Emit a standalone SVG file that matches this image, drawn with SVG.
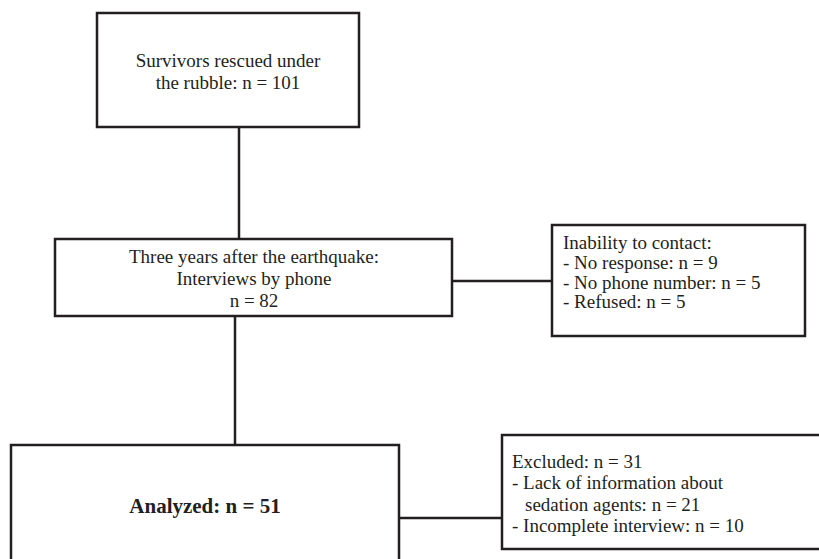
<svg xmlns="http://www.w3.org/2000/svg" width="819" height="559" viewBox="0 0 819 559">
<style>
.box{fill:#fff;stroke:#231f20;stroke-width:2.5}
.ln{stroke:#231f20;stroke-width:2.5;fill:none}
text{font-family:"Liberation Serif","Times New Roman",serif;fill:#231f20}
.c{text-anchor:middle;font-size:19px}
.l{font-size:19px}
.b{font-weight:bold;font-size:21px;text-anchor:middle}
</style>
<rect width="819" height="559" fill="#fff"/>
<g id="connectors">
<line class="ln" x1="239" y1="127" x2="239" y2="239"/>
<line class="ln" x1="452" y1="281" x2="552" y2="281"/>
<line class="ln" x1="235" y1="316" x2="235" y2="445"/>
<line class="ln" x1="399" y1="518" x2="502" y2="518"/>
</g>
<g id="n1">
<rect class="box" x="97" y="13" width="262" height="114"/>
<text class="c" x="228" y="67">Survivors rescued under</text>
<text class="c" x="228" y="89">the rubble: n = 101</text>
</g>
<g id="n2">
<rect class="box" x="55" y="239" width="397" height="77"/>
<text class="c" x="254" y="263">Three years after the earthquake:</text>
<text class="c" x="254" y="285">Interviews by phone</text>
<text class="c" x="254" y="307">n = 82</text>
</g>
<g id="n3">
<rect class="box" x="552" y="225" width="253" height="111"/>
<text class="l" x="563" y="249">Inability to contact:</text>
<text class="l" x="563" y="269">- No response: n = 9</text>
<text class="l" x="563" y="289">- No phone number: n = 5</text>
<text class="l" x="563" y="308">- Refused: n = 5</text>
</g>
<g id="n4">
<rect class="box" x="11" y="445" width="388" height="120"/>
<text class="b" x="205" y="513">Analyzed: n = 51</text>
</g>
<g id="n5">
<rect class="box" x="502" y="435" width="330" height="114"/>
<text class="l" x="512" y="468">Excluded: n = 31</text>
<text class="l" x="512" y="489">- Lack of information about</text>
<text class="l" x="525" y="511">sedation agents: n = 21</text>
<text class="l" x="512" y="532">- Incomplete interview: n = 10</text>
</g>
</svg>
